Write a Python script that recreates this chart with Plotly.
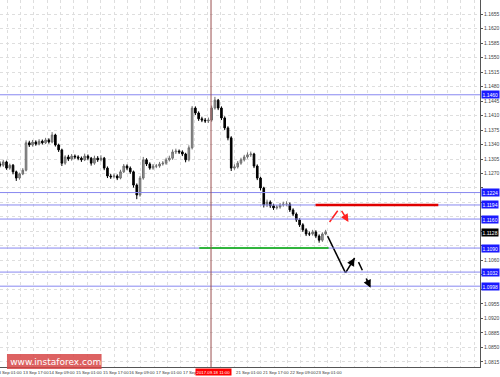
import plotly.graph_objects as go

# ---------------- data ----------------
close = [1.1290, 1.1298, 1.1283, 1.1290, 1.1274, 1.1259, 1.1269, 1.1278, 1.1344, 1.1339,
         1.1346, 1.1341, 1.1348, 1.1344, 1.1351, 1.1346, 1.1363, 1.1339, 1.1327, 1.1295,
         1.1310, 1.1305, 1.1312, 1.1310, 1.1307, 1.1303, 1.1312, 1.1307, 1.1295, 1.1307,
         1.1303, 1.1307, 1.1283, 1.1264, 1.1262, 1.1264, 1.1259, 1.1274, 1.1288, 1.1283,
         1.1274, 1.1242, 1.1218, 1.1259, 1.1303, 1.1293, 1.1283, 1.1288, 1.1288, 1.1293,
         1.1295, 1.1303, 1.1307, 1.1322, 1.1324, 1.1322, 1.1317, 1.1303, 1.1332, 1.1428,
         1.1416, 1.1402, 1.1399, 1.1397, 1.1399, 1.1428, 1.1447, 1.1428, 1.1404, 1.1380,
         1.1356, 1.1283, 1.1286, 1.1295, 1.1303, 1.1310, 1.1315, 1.1317, 1.1288, 1.1259,
         1.1235, 1.1194, 1.1201, 1.1192, 1.1187, 1.1189, 1.1194, 1.1196, 1.1196, 1.1182,
         1.1172, 1.1158, 1.1146, 1.1134, 1.1124, 1.1124, 1.1129, 1.1119, 1.1109, 1.1124,
         1.1129]
high = [1.1299, 1.1303, 1.1301, 1.1294, 1.1293, 1.1277, 1.1272, 1.1283, 1.1350, 1.1349,
        1.1351, 1.1350, 1.1353, 1.1352, 1.1356, 1.1355, 1.1370, 1.1366, 1.1342, 1.1330,
        1.1314, 1.1315, 1.1317, 1.1316, 1.1314, 1.1311, 1.1318, 1.1316, 1.1310, 1.1313,
        1.1312, 1.1314, 1.1310, 1.1287, 1.1269, 1.1270, 1.1268, 1.1279, 1.1293, 1.1292,
        1.1287, 1.1277, 1.1246, 1.1264, 1.1310, 1.1307, 1.1297, 1.1293, 1.1293, 1.1298,
        1.1300, 1.1308, 1.1313, 1.1328, 1.1330, 1.1328, 1.1326, 1.1320, 1.1338, 1.1433,
        1.1432, 1.1420, 1.1407, 1.1404, 1.1405, 1.1434, 1.1455, 1.1450, 1.1432, 1.1408,
        1.1384, 1.1360, 1.1292, 1.1300, 1.1308, 1.1315, 1.1321, 1.1323, 1.1320, 1.1292,
        1.1262, 1.1238, 1.1207, 1.1205, 1.1197, 1.1194, 1.1199, 1.1202, 1.1203, 1.1200,
        1.1186, 1.1176, 1.1162, 1.1150, 1.1138, 1.1130, 1.1134, 1.1133, 1.1123, 1.1128,
        1.1134]
low = [1.1285, 1.1286, 1.1279, 1.1279, 1.1268, 1.1252, 1.1255, 1.1266, 1.1275, 1.1334,
       1.1335, 1.1337, 1.1338, 1.1340, 1.1341, 1.1342, 1.1343, 1.1335, 1.1322, 1.1288,
       1.1291, 1.1300, 1.1301, 1.1305, 1.1302, 1.1298, 1.1300, 1.1302, 1.1289, 1.1291,
       1.1298, 1.1299, 1.1278, 1.1259, 1.1257, 1.1258, 1.1254, 1.1256, 1.1271, 1.1278,
       1.1269, 1.1236, 1.1208, 1.1214, 1.1255, 1.1288, 1.1279, 1.1279, 1.1283, 1.1284,
       1.1289, 1.1291, 1.1299, 1.1303, 1.1317, 1.1317, 1.1312, 1.1297, 1.1299, 1.1328,
       1.1411, 1.1397, 1.1394, 1.1392, 1.1392, 1.1395, 1.1424, 1.1423, 1.1399, 1.1375,
       1.1350, 1.1276, 1.1279, 1.1282, 1.1291, 1.1299, 1.1306, 1.1310, 1.1283, 1.1254,
       1.1229, 1.1188, 1.1189, 1.1187, 1.1182, 1.1183, 1.1185, 1.1190, 1.1191, 1.1177,
       1.1167, 1.1153, 1.1141, 1.1129, 1.1119, 1.1119, 1.1120, 1.1114, 1.1103, 1.1105,
       1.1121]
first_open = 1.1293
open_ = [first_open] + close[:-1]
bars = list(range(len(close)))

level_prices = [1.1460, 1.1224, 1.1194, 1.1160, 1.1090, 1.1032, 1.0998]
level_labels = ["1.1460", "1.1224", "1.1194", "1.1160", "1.1090", "1.1032", "1.0998"]
current_price = 1.1128
current_label = "1.1128"

resistance_price = 1.1194
resistance_bars = [96.9, 134.6]
support_price = 1.1090
support_bars = [61.2, 100.9]

red_up_x = [101.2, 103.7]
red_up_y = [1.1153, 1.1180]
red_down_x = [104.9, 107.0]
red_down_y = [1.1180, 1.1153]
black_down_x = [100.6, 106.1]
black_down_y = [1.1119, 1.1030]
black_up_x = [106.1, 108.9]
black_up_y = [1.1030, 1.1066]
black_down2_x = [110.1, 113.8]
black_down2_y = [1.1056, 1.0994]

crosshair_bar = 64.8
crosshair_label = "2017.09.18 11:00"

x_labels = ["13 Sep 01:00", "13 Sep 17:00", "14 Sep 09:00", "15 Sep 01:00", "15 Sep 17:00",
            "16 Sep 09:00", "17 Sep 01:00", "17 Sep", "18 Sep 09:00", "21 Sep 01:00",
            "21 Sep 17:00", "22 Sep 09:00", "23 Sep 01:00"]

y_tick_start, y_tick_step, y_tick_count = 1.0815, 0.0035, 25

# ---------------- layout constants ----------------
W, H = 500, 377
ML, MR, MT, MB = 0, 18, 0, 10
PW = W - ML - MR
PX_PER_BAR = 3.27
X_MAX = PW / PX_PER_BAR
Y_RANGE = [1.08029, 1.16888]
LABEL_PX0, LABEL_STEP = -6.1, 26.8
FONT = "Liberation Sans"

ytick_vals = [round(y_tick_start + y_tick_step * k, 4) for k in range(y_tick_count)]
highlight = level_prices + [current_price]
ytick_text = ["" if any(abs(v - h) < 0.0011 for h in highlight) else f"{v:.4f}"
              for v in ytick_vals]
grid_x = [(LABEL_PX0 + LABEL_STEP / 2 * k) / PX_PER_BAR for k in range(40)]

fig = go.Figure()
fig.add_trace(go.Candlestick(
    x=bars, open=open_, high=high, low=low, close=close,
    increasing=dict(line=dict(color="#6e6e6e", width=1), fillcolor="#9a9a9a"),
    decreasing=dict(line=dict(color="#000000", width=1), fillcolor="#000000"),
    whiskerwidth=0, showlegend=False, hoverinfo="skip"))

for xs, ys, col, dash in [(red_up_x, red_up_y, "#ff2020", "solid"),
                          (red_down_x, red_down_y, "#ff2020", "dash"),
                          (black_down_x, black_down_y, "#000000", "solid"),
                          (black_up_x, black_up_y, "#000000", "solid"),
                          (black_down2_x, black_down2_y, "#000000", "dash")]:
    fig.add_trace(go.Scatter(x=xs, y=ys, mode="lines", showlegend=False, hoverinfo="skip",
                             line=dict(color=col, width=1.5, dash=dash)))

shapes = []
for p in level_prices:
    shapes.append(dict(type="line", xref="paper", x0=0, x1=1, yref="y", y0=p, y1=p,
                       line=dict(color="#8888f0", width=1), layer="above"))
shapes.append(dict(type="line", xref="x", x0=resistance_bars[0], x1=resistance_bars[1],
                   yref="y", y0=resistance_price, y1=resistance_price,
                   line=dict(color="#e00000", width=2.5)))
shapes.append(dict(type="line", xref="x", x0=support_bars[0], x1=support_bars[1],
                   yref="y", y0=support_price, y1=support_price,
                   line=dict(color="#00b000", width=1.5)))
shapes.append(dict(type="line", xref="x", x0=crosshair_bar, x1=crosshair_bar,
                   yref="paper", y0=0, y1=1, line=dict(color="#9a5050", width=1)))
# watermark box
shapes.append(dict(type="rect", xref="paper", yref="paper",
                   x0=7 / PW, x1=102 / PW, y0=-2 / 367, y1=13 / 367,
                   fillcolor="rgba(215,70,70,0.85)", line=dict(width=0)))

ann = []
# arrow heads
for xs, ys, col in [(red_down_x, red_down_y, "#ff2020"),
                    (black_up_x, black_up_y, "#000000"),
                    (black_down2_x, black_down2_y, "#000000")]:
    ann.append(dict(x=xs[1], y=ys[1], ax=xs[0] + (xs[1] - xs[0]) * 0.6,
                    ay=ys[0] + (ys[1] - ys[0]) * 0.6, xref="x", yref="y",
                    axref="x", ayref="y", showarrow=True, arrowhead=2,
                    arrowsize=1.2, arrowwidth=1.3, arrowcolor=col, text=""))
# right axis highlighted labels
for p, t in zip(level_prices, level_labels):
    ann.append(dict(x=1, xref="paper", xanchor="left", xshift=1, y=p, yref="y",
                    text=t, showarrow=False, bgcolor="#1a1aff", borderpad=0.5,
                    font=dict(color="white", size=5, family=FONT)))
ann.append(dict(x=1, xref="paper", xanchor="left", xshift=1, y=current_price, yref="y",
                text=current_label, showarrow=False, bgcolor="#000000", borderpad=0.5,
                font=dict(color="white", size=5, family=FONT)))
# bottom labels
for k, t in enumerate(x_labels):
    if k == 8:
        continue
    px = LABEL_PX0 + LABEL_STEP * k
    ann.append(dict(x=px / PW, xref="paper", xanchor="left", y=0, yref="paper",
                    yanchor="top", yshift=-1, text=t, showarrow=False,
                    font=dict(color="#333333", size=4.3, family=FONT)))
ann.append(dict(x=crosshair_bar, xref="x", xanchor="center", xshift=2, y=0, yref="paper",
                yanchor="top", yshift=-1, text=crosshair_label, showarrow=False,
                bgcolor="#ff0000", borderpad=0.5,
                font=dict(color="white", size=4.3, family=FONT)))
# watermark text
ann.append(dict(x=54.5 / PW, xref="paper", xanchor="center", y=5.5 / 367, yref="paper",
                yanchor="middle", text="[  www.instaforex.com ]", showarrow=False,
                font=dict(color="white", size=9, family="DejaVu Sans")))

fig.update_layout(
    width=W, height=H, margin=dict(l=ML, r=MR, t=MT, b=MB),
    paper_bgcolor="white", plot_bgcolor="white",
    shapes=shapes, annotations=ann, showlegend=False,
    xaxis=dict(range=[0, X_MAX], rangeslider=dict(visible=False),
               tickvals=grid_x, showticklabels=False, ticks="",
               showgrid=True, gridcolor="#dedede", griddash="dot", gridwidth=1,
               zeroline=False, showline=True, linecolor="#555555", linewidth=1),
    yaxis=dict(range=Y_RANGE, side="right", tickvals=ytick_vals,
               ticktext=ytick_text,
               tickfont=dict(size=5, color="#444444", family=FONT),
               ticks="outside", ticklen=2, tickcolor="#555555",
               showgrid=True, gridcolor="#dedede", griddash="dot", gridwidth=1,
               zeroline=False, showline=True, linecolor="#555555", linewidth=1),
)

fig.write_html("out.html")
